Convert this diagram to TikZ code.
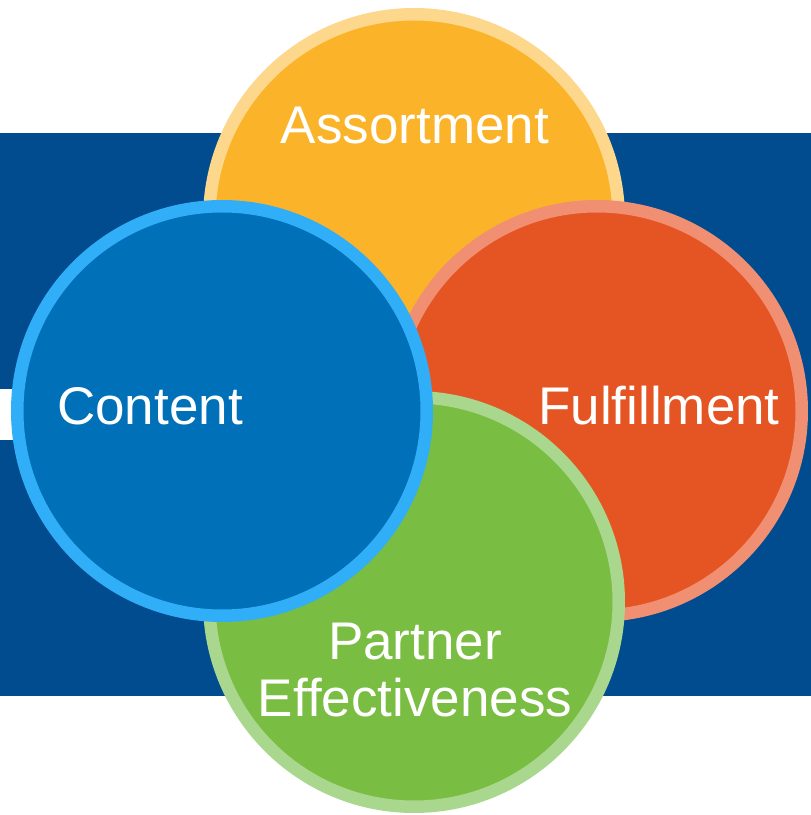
\documentclass[tikz,border=0pt]{standalone}
\usepackage{fontspec}
\setmainfont{Liberation Sans}
\definecolor{bandblue}{HTML}{004C8E}
\definecolor{cfill}{HTML}{0070B8}
\definecolor{cring}{HTML}{30AEF8}
\definecolor{afill}{HTML}{FBB32A}
\definecolor{aring}{HTML}{FDD78C}
\definecolor{ffill}{HTML}{E55523}
\definecolor{fring}{HTML}{F08F72}
\definecolor{pfill}{HTML}{7ABD43}
\definecolor{pring}{HTML}{AAD78E}
\begin{document}
\begin{tikzpicture}[x=1pt,y=1pt,
  petal/.style 2 args={fill=#1, draw=#2, line width=12.5pt},
  label/.style={text=white, inner sep=0pt, anchor=base,
    font=\fontsize{53}{57}\selectfont}]
\useasboundingbox (0,0) rectangle (811,815);
% background band with a short white stripe on the left
\fill[bandblue] (0,119) rectangle (811,682);
\fill[white] (0,375) rectangle (200,426);
% four overlapping circles
\draw[petal={afill}{aring}] (414,596) circle (204.75);
\draw[petal={ffill}{fring}] (597,404) circle (204.75);
\draw[petal={pfill}{pring}] (414,213) circle (204.75);
\draw[petal={cfill}{cring}] (222,404) circle (204.75);
% labels
\node[label] (assort) at (415,671) {Assortment};
\node[label] (content) at (150,390) {Content};
\node[label] (fulfil) at (659,390) {Fulfillment};
\node[label] (partner) at (415,155) {Partner};
\node[label] (effect) at (415,98) {Effectiveness};
\end{tikzpicture}
\end{document}
